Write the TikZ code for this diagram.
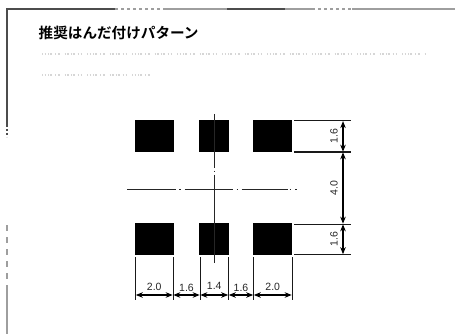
\documentclass[tikz,border=0pt]{standalone}
\usepackage{fontspec}
\setmainfont{Liberation Sans}
\newfontfamily\jpfont{Noto Sans CJK JP Bold}
\usetikzlibrary{arrows.meta,calc}
\tikzset{
  padbox/.style={fill=black,draw=none,inner sep=0pt,anchor=north west},
  extline/.style={line width=1pt,black!90},
  dimline/.style={line width=1.2pt,{Stealth[length=7pt,width=5.5pt]}-{Stealth[length=7pt,width=5.5pt]},shorten >=0.3pt,shorten <=0.3pt},
  dimtext/.style={font=\fontsize{10.5}{10.5}\selectfont,inner sep=0pt,black!85},
  vdimtext/.style={dimtext,rotate=90,yshift=9pt},
  centerline/.style={line width=1.1pt,black!85},
  framedark/.style={line width=1.1pt,black!70},
  framelight/.style={line width=1.3pt,black!38},
  faint/.style={line width=1.6pt,black!16,dash pattern=on 1pt off 1.5pt on 1.5pt off 2pt on 1pt off 1pt on 2pt off 3pt on 1pt off 2pt on 1.5pt off 5pt},
}
\begin{document}
\begin{tikzpicture}[x=1pt,y=-1pt]
\useasboundingbox (0,0) rectangle (455,334);
% page frame
\draw[framedark] (7,125) -- (7,9) -- (115,9);
\draw[framedark,dash pattern=on 2pt off 2pt] (7,125) -- (7,137);
\draw[framelight,dash pattern=on 6pt off 6pt] (7,225) -- (7,285);
\draw[framelight] (7,285) -- (7,334);
\draw[framelight,dash pattern=on 3pt off 3pt] (115,9) -- (163,9);
\draw[framelight] (163,9) -- (227,9);
\draw[framedark] (227,9) -- (285,9);
\draw[framelight] (285,9) -- (312,9);
\draw[framelight,dash pattern=on 3pt off 3pt] (312,9) -- (352,9);
\draw[framelight] (352,9) -- (455,9);
% title and faint body text
\node[anchor=west,inner sep=0pt,font=\jpfont\fontsize{14.6}{14.6}\selectfont] (title) at (38.5,33) {推奨はんだ付けパターン};
\coordinate (t1a) at (42,54);
\coordinate (t1b) at (425,54);
\coordinate (t2a) at (42,75);
\coordinate (t2b) at (150,75);
\draw[faint] (t1a) -- (t1b);
\draw[faint] (t2a) -- (t2b);
% pads
\node[padbox,minimum width=38.5pt,minimum height=32pt] (p1) at (135,120) {};
\node[padbox,minimum width=30pt,minimum height=32pt] (p2) at (199,120) {};
\node[padbox,minimum width=39pt,minimum height=32pt] (p3) at (253,120) {};
\node[padbox,minimum width=38.5pt,minimum height=32pt] (p4) at (135,223) {};
\node[padbox,minimum width=30pt,minimum height=32pt] (p5) at (199,223) {};
\node[padbox,minimum width=39pt,minimum height=32pt] (p6) at (253,223) {};
% center lines
\coordinate (cvt) at (214.5,114);
\coordinate (cvb) at (214.5,263);
\coordinate (chl) at (127,189.5);
\coordinate (chr) at (301,189.5);
\draw[centerline,dash pattern=on 54pt off 2.5pt on 1.5pt off 2.5pt on 90pt] (cvt) -- (cvb);
\draw[centerline,dash pattern=on 49pt off 3pt on 1.5pt off 4pt on 48pt off 4pt on 1.5pt off 3.5pt on 46pt off 2pt on 1.5pt off 4pt on 1.5pt] (chl) -- (chr);
% horizontal dimension extension lines
\foreach \n/\x in {a/135.5,b/173,c/200,d/228.5,e/253.5,f/292}{
  \coordinate (\n t) at (\x,257);
  \coordinate (\n b) at (\x,300);
  \coordinate (\n m) at (\x,295);
  \draw[extline] (\n t) -- (\n b);
}
\draw[dimline] (am) -- node[dimtext,above=4pt] (d1) {2.0} (bm);
\draw[dimline] (bm) -- node[dimtext,above=3pt] (d2) {1.6} (cm);
\draw[dimline] (cm) -- node[dimtext,above=5pt] (d3) {1.4} (dm);
\draw[dimline] (dm) -- node[dimtext,above=3pt] (d4) {1.6} (em);
\draw[dimline] (em) -- node[dimtext,above=4pt] (d5) {2.0} (fm);
% vertical dimension extension lines
\foreach \n/\y in {g/120.8,h/152,i/224,j/254.5}{
  \coordinate (\n l) at (294,\y);
  \coordinate (\n r) at (351,\y);
  \coordinate (\n m) at (343,\y);
  \draw[extline] (\n l) -- (\n r);
}
\draw[dimline] (gm) -- node[vdimtext] (d6) {1.6} (hm);
\draw[dimline] (hm) -- node[vdimtext] (d7) {4.0} (im);
\draw[dimline] (im) -- node[vdimtext] (d8) {1.6} (jm);
\end{tikzpicture}
\end{document}
